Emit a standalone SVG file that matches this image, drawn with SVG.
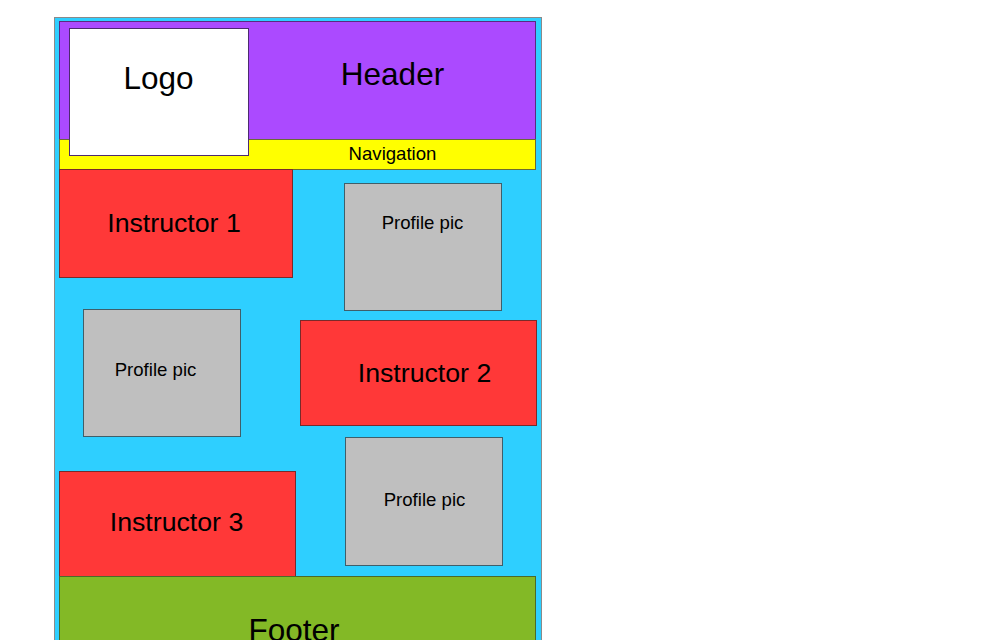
<svg xmlns="http://www.w3.org/2000/svg" width="1003" height="640" viewBox="0 0 1003 640">
<style>
text{font-family:"Liberation Sans",Arial,sans-serif;fill:#000;text-anchor:middle}
.big{font-size:31.5px}
.mid{font-size:26.7px}
.sm{font-size:18.6px}
</style>
<rect width="1003" height="640" fill="#ffffff"/>
<g id="page"><rect x="54.5" y="17.5" width="487" height="640" fill="#2ecfff" stroke="#8a8a8a"/></g>
<g id="header"><rect x="59.5" y="21.5" width="476" height="118" fill="#ab4aff" stroke="#5a2a80"/><text class="big" x="392.5" y="85">Header</text></g>
<g id="navigation"><rect x="59.5" y="139.5" width="476" height="30" fill="#ffff00" stroke="#6b6b30"/><text class="sm" x="392.5" y="160">Navigation</text></g>
<g id="logo"><rect x="69.5" y="28.5" width="179" height="127" fill="#ffffff" stroke="#4d2a70"/><text class="big" x="158.5" y="89">Logo</text></g>
<g id="instructor1"><rect x="59.5" y="169.5" width="233" height="108" fill="#ff3838" stroke="#7a2a2a"/><text class="mid" x="174" y="231.5">Instructor 1</text></g>
<g id="profile1"><rect x="344.5" y="183.5" width="157" height="127" fill="#bfbfbf" stroke="#3f5f6a"/><text class="sm" x="422.5" y="228.5">Profile pic</text></g>
<g id="profile2"><rect x="83.5" y="309.5" width="157" height="127" fill="#bfbfbf" stroke="#3f5f6a"/><text class="sm" x="155.5" y="376">Profile pic</text></g>
<g id="instructor2"><rect x="300.5" y="320.5" width="236" height="105" fill="#ff3838" stroke="#7a2a2a"/><text class="mid" x="424.5" y="381.5">Instructor 2</text></g>
<g id="profile3"><rect x="345.5" y="437.5" width="157" height="128" fill="#bfbfbf" stroke="#3f5f6a"/><text class="sm" x="424.5" y="506">Profile pic</text></g>
<g id="instructor3"><rect x="59.5" y="471.5" width="236" height="105" fill="#ff3838" stroke="#7a2a2a"/><text class="mid" x="176.5" y="531">Instructor 3</text></g>
<g id="footer"><rect x="59.5" y="576.5" width="476" height="80" fill="#83b926" stroke="#4a6a2a"/><text class="big" x="294" y="641">Footer</text></g>
<g id="connectors"></g>
</svg>
